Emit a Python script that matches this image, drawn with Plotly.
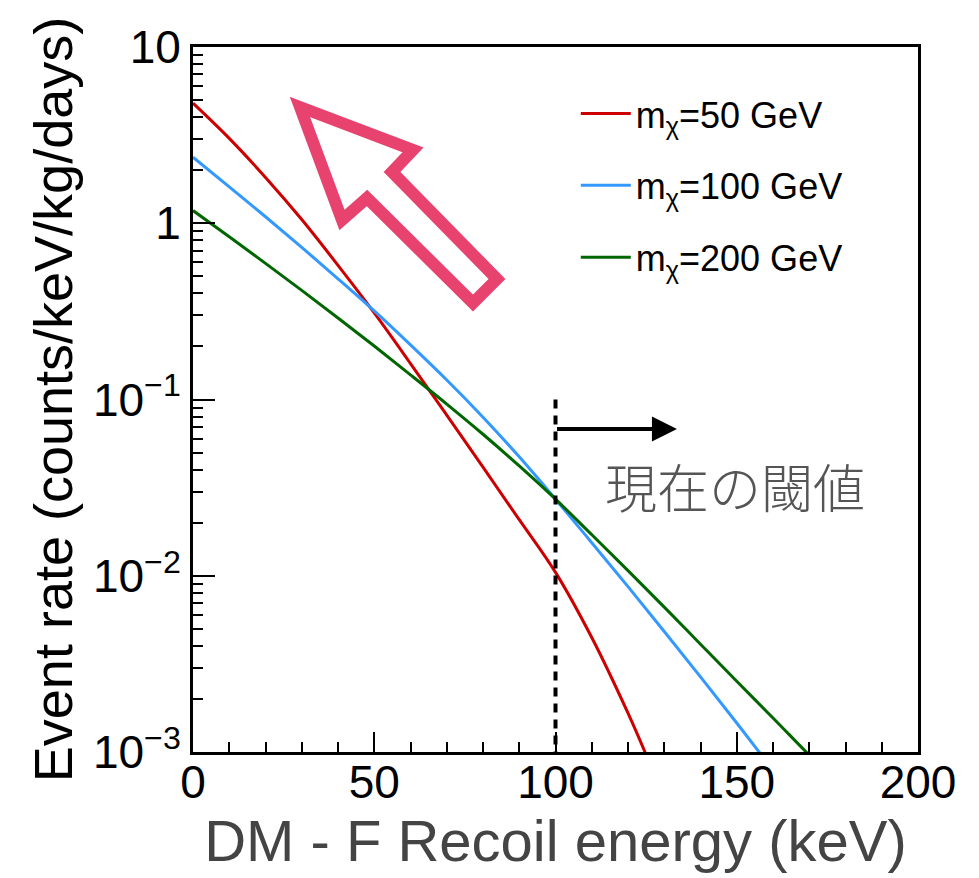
import plotly.graph_objects as go
import math

# ---------------- data ----------------
energy_50 = [0, 10, 20, 30, 40, 50, 60, 70, 80, 90, 100, 110, 120, 125, 130]
rate_50 = [4.80, 3.03, 1.82, 1.05, 0.577, 0.310, 0.160, 0.0815, 0.0413, 0.0208,
           0.01045, 0.00446, 0.00166, 0.000964, 0.00054]

energy_100 = [0, 10, 20, 30, 40, 50, 60, 70, 80, 90, 100, 110, 120, 130, 140, 150, 160]
rate_100 = [2.37, 1.61, 1.089, 0.730, 0.484, 0.318, 0.204, 0.129, 0.0794, 0.0473,
            0.0272, 0.0154, 0.00867, 0.00483, 0.00267, 0.00146, 0.00079]

energy_200 = [0, 10, 20, 30, 40, 50, 60, 70, 80, 90, 100, 110, 120, 130, 140, 150, 160, 170, 175]
rate_200 = [1.18, 0.838, 0.592, 0.416, 0.290, 0.201, 0.138, 0.0942, 0.0635, 0.0420,
            0.0272, 0.0171, 0.0107, 0.00664, 0.00409, 0.00252, 0.00156, 0.00096, 0.00076]

series_names = ["m<sub>χ</sub>=50 GeV", "m<sub>χ</sub>=100 GeV", "m<sub>χ</sub>=200 GeV"]
series_colors = ["#cc0000", "#3399ff", "#006600"]

threshold_x = [100, 100]
threshold_y = [0.1, 0.001]
arrow_from_x = 100
arrow_to_x = 133.5
arrow_y = 0.068
threshold_label = "現在の閾値"
label_x = 149.5
label_y = 0.0325

y_tickvals = [1e-3, 1e-2, 1e-1, 1, 10]
y_ticktext = ["10<sup>−3</sup>", "10<sup>−2</sup>", "10<sup>−1</sup>", "1", "10"]
x_tickvals = [0, 50, 100, 150, 200]
x_ticktext = ["0", "50", "100", "150", "200"]

x_title = "DM - F Recoil energy (keV)"
y_title = "Event rate (counts/keV/kg/days)"

# ---------------- layout geometry ----------------
PAGE_OFF = 8                      # default body margin of the html page
W, H = 971, 870
L, R, T, B = 185, 61, 39, 126
PW, PH = W - L - R, H - T - B

FONT = "Liberation Sans, Arial, Helvetica, sans-serif"

fig = go.Figure()

for xs, ys, name, col in zip([energy_50, energy_100, energy_200],
                             [rate_50, rate_100, rate_200],
                             series_names, series_colors):
    fig.add_trace(go.Scatter(
        x=xs, y=ys, mode="lines", name=name, legendgroup=name,
        line=dict(color=col, width=3, shape="spline", smoothing=1.0),
    ))

fig.add_trace(go.Scatter(
    x=threshold_x, y=threshold_y, mode="lines", showlegend=False,
    line=dict(color="black", width=4, dash="9px,7px"),
))

# horizontal arrow
fig.add_annotation(
    x=arrow_to_x, y=math.log10(arrow_y), ax=arrow_from_x, ay=math.log10(arrow_y),
    xref="x", yref="y", axref="x", ayref="y", text="",
    showarrow=True, arrowhead=2, arrowsize=1.25, arrowwidth=4, arrowcolor="black",
)

fig.add_annotation(
    x=label_x, y=math.log10(label_y), xref="x", yref="y", text=threshold_label,
    showarrow=False,
    font=dict(family="Noto Sans CJK JP", size=52, color="#555555", weight=300),
)

# big pink hollow arrow (decoration), page-pixel vertices -> paper coords
def px(xp, yp):
    left = PAGE_OFF + L
    bottom = PAGE_OFF + T + PH
    return (xp - left) / PW, (bottom - yp) / PH

verts = [(300, 107), (413, 150), (392, 172), (497, 279), (473, 303),
         (367, 198), (342, 220)]
pts = [px(a, b) for a, b in verts]
path = "M " + " L ".join(f"{a:.4f},{b:.4f}" for a, b in pts) + " Z"
fig.add_shape(type="path", path=path, xref="paper", yref="paper",
              line=dict(color="#e8436f", width=12), fillcolor="rgba(0,0,0,0)")

fig.update_layout(
    width=W, height=H,
    margin=dict(l=L, r=R, t=T, b=B, autoexpand=False),
    paper_bgcolor="white", plot_bgcolor="white",
    font=dict(family=FONT, color="black"),
    showlegend=True,
    legend=dict(
        x=0.528, y=0.948, xanchor="left", yanchor="top",
        bgcolor="rgba(0,0,0,0)", borderwidth=0,
        font=dict(family=FONT, size=36, color="black"),
        tracegroupgap=22, itemwidth=50,
    ),
    xaxis=dict(
        range=[0, 200], showgrid=False, zeroline=False,
        showline=True, linecolor="black", linewidth=3, mirror=True,
        tickvals=x_tickvals, ticktext=x_ticktext,
        ticks="inside", ticklen=20, tickwidth=2, tickcolor="black",
        tickfont=dict(family=FONT, size=46, color="black"),
        ticklabelstandoff=-12,
        minor=dict(dtick=10, ticks="inside", ticklen=10, tickwidth=2, tickcolor="black"),
        title=dict(text=x_title, font=dict(family=FONT, size=58, color="#444444"), standoff=0),
    ),
    yaxis=dict(
        type="log", range=[-3, 1], showgrid=False, zeroline=False,
        showline=True, linecolor="black", linewidth=3, mirror=True,
        tickvals=y_tickvals, ticktext=y_ticktext,
        ticks="inside", ticklen=22, tickwidth=2, tickcolor="black",
        tickfont=dict(family=FONT, size=46, color="black"),
        minor=dict(dtick="D1", ticks="inside", ticklen=10, tickwidth=2, tickcolor="black"),
        title=dict(text=y_title, font=dict(family=FONT, size=54, color="black"), standoff=4),
    ),
)

fig.write_html("out.html")
